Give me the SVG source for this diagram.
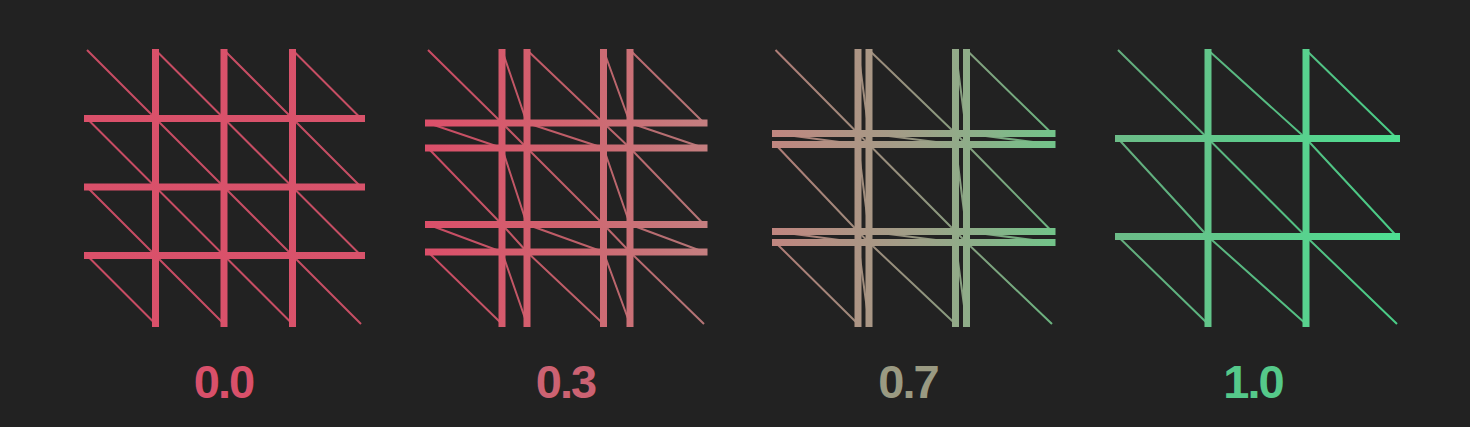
<svg xmlns="http://www.w3.org/2000/svg" width="1470" height="427" viewBox="0 0 1470 427">
  <defs>
    <linearGradient id="g1" gradientUnits="userSpaceOnUse" x1="84" y1="0" x2="365" y2="0">
      <stop offset="0" stop-color="#da506a"/>
      <stop offset="1" stop-color="#d8536b"/>
    </linearGradient>
    <linearGradient id="g2" gradientUnits="userSpaceOnUse" x1="425" y1="0" x2="708" y2="0">
      <stop offset="0" stop-color="#dc4f6a"/>
      <stop offset="0.5" stop-color="#d0646f"/>
      <stop offset="1" stop-color="#c47f80"/>
    </linearGradient>
    <linearGradient id="g3" gradientUnits="userSpaceOnUse" x1="772" y1="0" x2="1056" y2="0">
      <stop offset="0" stop-color="#c08680"/>
      <stop offset="0.5" stop-color="#a09f88"/>
      <stop offset="1" stop-color="#72c48a"/>
    </linearGradient>
    <linearGradient id="g4" gradientUnits="userSpaceOnUse" x1="1115" y1="0" x2="1400" y2="0">
      <stop offset="0" stop-color="#6cbc88"/>
      <stop offset="0.5" stop-color="#5dcb8c"/>
      <stop offset="1" stop-color="#4ee092"/>
    </linearGradient>
  </defs>
  <style>
    .diag { fill: none; stroke-width: 2; stroke-opacity: 0.9; }
    .bar { fill: none; stroke-width: 7; stroke-linecap: butt; }
    .lbl { font-family: "Liberation Sans", Arial, sans-serif; font-weight: bold; font-size: 47px; letter-spacing: -2px; text-anchor: middle; }
  </style>
  <rect x="0" y="0" width="1470" height="427" fill="#222222"/>

  <g id="panel-0-0">
    <path class="diag" stroke="url(#g1)" d="M87 50L155.5 118.5M155.5 50L224 118.5M224 50L292.5 118.5M292.5 50L361 118.5M87 118.5L155.5 187M155.5 118.5L224 187M224 118.5L292.5 187M292.5 118.5L361 187M87 187L155.5 255.5M155.5 187L224 255.5M224 187L292.5 255.5M292.5 187L361 255.5M87 255.5L155.5 324M155.5 255.5L224 324M224 255.5L292.5 324M292.5 255.5L361 324"/>
    <path class="bar" stroke="url(#g1)" d="M155.5 49V327M224 49V327M292.5 49V327M84 118.5H365M84 187H365M84 255.5H365"/>
    <text class="lbl" x="223.5" y="398" fill="#d9506a">0.0</text>
  </g>

  <g id="panel-0-3">
    <path class="diag" stroke="url(#g2)" d="M428 50L502 123M502 50L527 123M527 50L603.5 123M603.5 50L630 123M630 50L704 123M428 123L502 148M502 123L527 148M527 123L603.5 148M603.5 123L630 148M630 123L704 148M428 148L502 224.5M502 148L527 224.5M527 148L603.5 224.5M603.5 148L630 224.5M630 148L704 224.5M428 224.5L502 252M502 224.5L527 252M527 224.5L603.5 252M603.5 224.5L630 252M630 224.5L704 252M428 252L502 324M502 252L527 324M527 252L603.5 324M603.5 252L630 324M630 252L704 324"/>
    <path class="bar" stroke="url(#g2)" d="M502 49V327M527 49V327M603.5 49V327M630 49V327M425 123H707.5M425 148H707.5M425 224.5H707.5M425 252H707.5"/>
    <text class="lbl" x="565.5" y="398" fill="#cc6272">0.3</text>
  </g>

  <g id="panel-0-7">
    <path class="diag" stroke="url(#g3)" d="M775.5 50L858 133.5M858 50L869 133.5M869 50L955.5 133.5M955.5 50L966.5 133.5M966.5 50L1052 133.5M775.5 133.5L858 144.5M858 133.5L869 144.5M869 133.5L955.5 144.5M955.5 133.5L966.5 144.5M966.5 133.5L1052 144.5M775.5 144.5L858 231.5M858 144.5L869 231.5M869 144.5L955.5 231.5M955.5 144.5L966.5 231.5M966.5 144.5L1052 231.5M775.5 231.5L858 242.5M858 231.5L869 242.5M869 231.5L955.5 242.5M955.5 231.5L966.5 242.5M966.5 231.5L1052 242.5M775.5 242.5L858 324M858 242.5L869 324M869 242.5L955.5 324M955.5 242.5L966.5 324M966.5 242.5L1052 324"/>
    <path class="bar" stroke="url(#g3)" d="M858 49V327M869 49V327M955.5 49V327M966.5 49V327M772 133.5H1055.5M772 144.5H1055.5M772 231.5H1055.5M772 242.5H1055.5"/>
    <text class="lbl" x="908" y="398" fill="#9a9a82">0.7</text>
  </g>

  <g id="panel-1-0">
    <path class="diag" stroke="url(#g4)" d="M1118 50L1208 138.5M1208 50L1306 138.5M1306 50L1397 138.5M1118 138.5L1208 236.5M1208 138.5L1306 236.5M1306 138.5L1397 236.5M1118 236.5L1208 324M1208 236.5L1306 324M1306 236.5L1397 324"/>
    <path class="bar" stroke="url(#g4)" d="M1208 49V327M1306 49V327M1115 138.5H1400M1115 236.5H1400"/>
    <text class="lbl" x="1253" y="398" fill="#55c98a">1.0</text>
  </g>
</svg>
